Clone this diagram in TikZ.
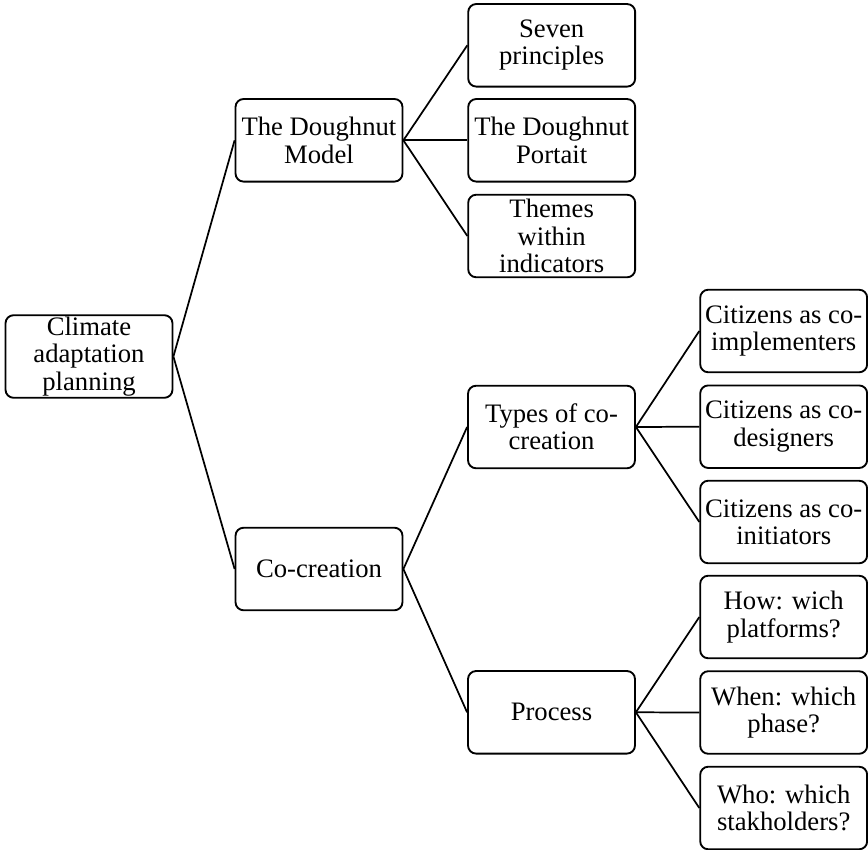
\documentclass[tikz,border=0pt]{standalone}
\usepackage{fontspec}
\setmainfont{Liberation Serif}
\begin{document}
\begin{tikzpicture}[x=0.75pt,y=-0.75pt,
  box/.style={draw, line width=1.4pt, rounded corners=6pt, rectangle,
    minimum width=125.2pt, minimum height=61.9pt, inner sep=0pt,
    align=center, font=\fontsize{20}{20.5}\selectfont},
  link/.style={line width=1.3pt}]
\useasboundingbox (0,0) rectangle (868,850);
% level 0
\node[box] (root) at (89,356.5) {Climate\\adaptation\\planning};
% level 1
\node[box] (dm) at (319,140.3) {The Doughnut\\Model};
\node[box] (cc) at (319,569) {Co-creation};
% level 2
\node[box] (sp) at (551.7,45.3) {Seven\\principles};
\node[box] (dp) at (551.7,140.3) {The Doughnut\\Portait};
\node[box] (ti) at (551.7,236) {Themes\\within\\indicators};
\node[box] (ty) at (551.5,427) {Types of co-\\creation};
\node[box] (pr) at (551.5,712.3) {Process};
% level 3
\node[box] (ci) at (783.7,331) {Citizens as co-\\implementers};
\node[box] (cd) at (783.7,426.7) {Citizens as co-\\designers};
\node[box] (cn) at (783.7,522) {Citizens as co-\\initiators};
\node[box] (hw) at (783.7,617) {How: wich\\platforms?};
\node[box] (wn) at (783.7,712.5) {When: which\\phase?};
\node[box] (wo) at (783.7,808) {Who: which\\stakholders?};
% connectors
\foreach \a/\b in {root/dm, root/cc, dm/sp, dm/dp, dm/ti, cc/ty, cc/pr,
                   ty/ci, ty/cd, ty/cn, pr/hw, pr/wn, pr/wo}
  \draw[link] (\a.east) -- (\b.west);
\end{tikzpicture}
\end{document}
